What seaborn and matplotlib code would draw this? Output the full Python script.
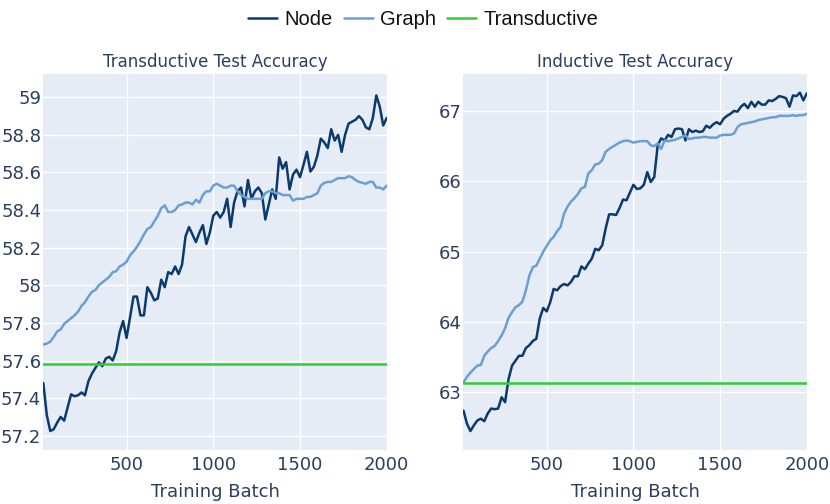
import numpy as np
import pandas as pd
import matplotlib
matplotlib.use("Agg")
import matplotlib.pyplot as plt
import seaborn as sns
from matplotlib.ticker import FuncFormatter, MultipleLocator

# training batches, one point every 20 batches
batches = list(range(20, 2001, 20))

trans_node = [
    57.48, 57.31, 57.225, 57.235, 57.27, 57.30, 57.28, 57.35, 57.42, 57.41,
    57.415, 57.43, 57.415, 57.49, 57.53, 57.56, 57.59, 57.57, 57.61, 57.62,
    57.60, 57.65, 57.75, 57.81, 57.72, 57.83, 57.94, 57.94, 57.84, 57.84,
    57.99, 57.96, 57.92, 57.93, 58.03, 57.99, 58.07, 58.06, 58.10, 58.06,
    58.11, 58.26, 58.31, 58.27, 58.23, 58.28, 58.32, 58.22, 58.28, 58.37,
    58.39, 58.36, 58.39, 58.46, 58.31, 58.44, 58.50, 58.52, 58.42, 58.56,
    58.46, 58.50, 58.52, 58.49, 58.35, 58.43, 58.51, 58.46, 58.68, 58.62,
    58.655, 58.51, 58.59, 58.615, 58.575, 58.64, 58.71, 58.605, 58.63, 58.69,
    58.78, 58.76, 58.73, 58.83, 58.77, 58.80, 58.71, 58.80, 58.86, 58.87,
    58.88, 58.90, 58.88, 58.84, 58.83, 58.89, 59.01, 58.95, 58.85, 58.89,
]
trans_graph = [
    57.685, 57.69, 57.70, 57.725, 57.755, 57.765, 57.795, 57.81, 57.825, 57.84,
    57.86, 57.89, 57.91, 57.94, 57.965, 57.975, 58.00, 58.015, 58.03, 58.045,
    58.07, 58.075, 58.10, 58.11, 58.125, 58.16, 58.18, 58.205, 58.235, 58.27,
    58.30, 58.31, 58.34, 58.37, 58.41, 58.425, 58.39, 58.39, 58.40, 58.425,
    58.43, 58.44, 58.44, 58.43, 58.455, 58.44, 58.48, 58.50, 58.50, 58.53,
    58.54, 58.53, 58.52, 58.52, 58.53, 58.53, 58.50, 58.48, 58.47, 58.46,
    58.46, 58.46, 58.46, 58.46, 58.49, 58.50, 58.50, 58.49, 58.49, 58.48,
    58.48, 58.48, 58.45, 58.46, 58.46, 58.46, 58.47, 58.47, 58.48, 58.49,
    58.53, 58.545, 58.55, 58.55, 58.56, 58.57, 58.57, 58.57, 58.58, 58.575,
    58.56, 58.55, 58.545, 58.54, 58.55, 58.55, 58.52, 58.52, 58.51, 58.53,
]
trans_baseline = 57.58

ind_node = [
    62.74, 62.555, 62.45, 62.53, 62.60, 62.625, 62.59, 62.70, 62.77, 62.76,
    62.77, 62.93, 62.86, 63.19, 63.38, 63.45, 63.52, 63.52, 63.63, 63.67,
    63.73, 63.76, 64.05, 64.20, 64.15, 64.28, 64.47, 64.45, 64.51, 64.54,
    64.52, 64.57, 64.65, 64.65, 64.79, 64.75, 64.83, 64.90, 65.04, 65.02,
    65.09, 65.33, 65.53, 65.53, 65.52, 65.62, 65.74, 65.73, 65.84, 65.95,
    65.89, 65.90, 65.95, 66.13, 65.99, 66.06, 66.51, 66.61, 66.58, 66.66,
    66.63, 66.74, 66.75, 66.74, 66.58, 66.74, 66.70, 66.72, 66.70, 66.71,
    66.79, 66.76, 66.81, 66.84, 66.81, 66.89, 66.93, 66.96, 67.00, 66.99,
    67.06, 67.10, 67.04, 67.13, 67.06, 67.13, 67.09, 67.09, 67.15, 67.14,
    67.17, 67.21, 67.20, 67.18, 67.06, 67.22, 67.21, 67.26, 67.15, 67.25,
]
ind_graph = [
    63.14, 63.22, 63.28, 63.33, 63.38, 63.39, 63.52, 63.58, 63.63, 63.66,
    63.73, 63.81, 63.91, 64.06, 64.14, 64.21, 64.24, 64.29, 64.45, 64.66,
    64.78, 64.80, 64.90, 65.00, 65.08, 65.16, 65.21, 65.29, 65.35, 65.54,
    65.64, 65.71, 65.76, 65.82, 65.90, 65.92, 66.11, 66.16, 66.24, 66.25,
    66.30, 66.42, 66.46, 66.49, 66.52, 66.55, 66.57, 66.58, 66.57, 66.55,
    66.56, 66.57, 66.57, 66.57, 66.51, 66.50, 66.54, 66.46, 66.58, 66.57,
    66.58, 66.59, 66.61, 66.63, 66.65, 66.60, 66.61, 66.62, 66.62, 66.63,
    66.63, 66.62, 66.62, 66.62, 66.65, 66.66, 66.66, 66.66, 66.68, 66.77,
    66.81, 66.82, 66.83, 66.84, 66.85, 66.87, 66.88, 66.89, 66.90, 66.91,
    66.91, 66.93, 66.93, 66.93, 66.93, 66.94, 66.93, 66.94, 66.94, 66.96,
]
ind_baseline = 63.137

series_names = ["Node", "Graph", "Transductive"]
colors = {"Node": "#0b3a6e", "Graph": "#6a9fd3", "Transductive": "#33cc33"}
text_color = "#2a3f5f"

sns.set_theme(style="darkgrid", rc={
    "axes.facecolor": "#E5ECF6",
    "grid.color": "white",
    "grid.linewidth": 1.0,
    "axes.edgecolor": "#E5ECF6",
})
plt.rcParams["font.family"] = ["DejaVu Sans"]


def make_frame(node, graph, baseline):
    df = pd.DataFrame({
        "Training Batch": batches * 3,
        "value": node + graph + [baseline] * len(batches),
        "series": ["Node"] * len(batches) + ["Graph"] * len(batches)
                  + ["Transductive"] * len(batches),
    })
    return df


def fmt(v, pos):
    return f"{v:.1f}".rstrip("0").rstrip(".")


fig = plt.figure(figsize=(8.3, 5.04), dpi=100)
ax_l = fig.add_axes([0.0522, 0.1071, 0.4137, 0.7454])
ax_r = fig.add_axes([0.5584, 0.1071, 0.4137, 0.7454])

panels = [
    (ax_l, make_frame(trans_node, trans_graph, trans_baseline),
     "Transductive Test Accuracy", (57.124, 59.122), 0.2),
    (ax_r, make_frame(ind_node, ind_graph, ind_baseline),
     "Inductive Test Accuracy", (62.18, 67.52), 1.0),
]

for ax, df, title, ylim, step in panels:
    sns.lineplot(data=df, x="Training Batch", y="value", hue="series",
                 hue_order=series_names, palette=colors, linewidth=1.8,
                 ax=ax, legend=False)
    ax.set_xlim(20, 2000)
    ax.set_ylim(*ylim)
    ax.set_xticks([500, 1000, 1500, 2000])
    ax.yaxis.set_major_locator(MultipleLocator(step))
    ax.yaxis.set_major_formatter(FuncFormatter(fmt))
    ax.tick_params(axis="both", length=0, labelsize=13, colors=text_color)
    ax.tick_params(axis="y", pad=1.5)
    ax.tick_params(axis="x", pad=4.5)
    ax.set_xlabel("Training Batch", fontsize=13, color=text_color, labelpad=6.5)
    ax.set_ylabel("")
    ax.set_title(title, fontsize=12, color=text_color, pad=5)
    for s in ax.spines.values():
        s.set_visible(False)

handles = [plt.Line2D([], [], color=colors[n], linewidth=1.8) for n in series_names]
fig.legend(handles, series_names, loc="upper center", bbox_to_anchor=(0.51, 1.017),
           ncol=3, frameon=False, handlelength=1.45,
           handletextpad=0.35, columnspacing=0.55, labelcolor="#111111",
           prop={"family": "Liberation Sans", "size": 14.5})

fig.savefig("out.png", dpi=100)
